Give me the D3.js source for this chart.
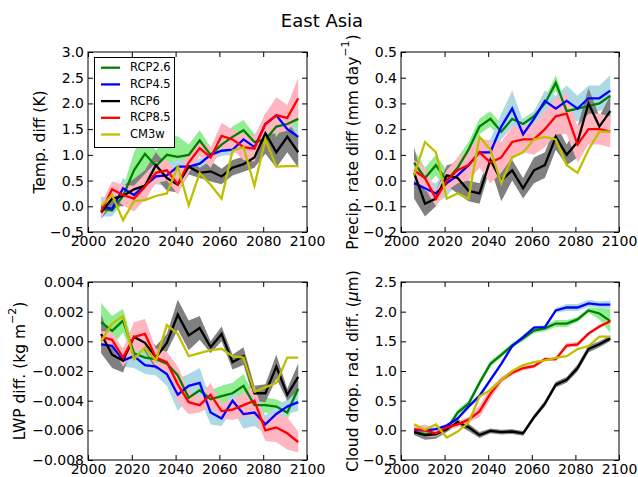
<!DOCTYPE html>
<html>
<head>
<meta charset="utf-8">
<script src="https://cdn.jsdelivr.net/npm/d3@7"></script>
<style>
  body { margin: 0; background: #fff; }
  text { font-family: "DejaVu Sans", sans-serif; }
</style>
</head>
<body>
<script>
// five-year means, 2006..2096
const years = [2006, 2011, 2016, 2021, 2026, 2031, 2036, 2041, 2046, 2051, 2056, 2061, 2066, 2071, 2076, 2081, 2086, 2091, 2096]

const scenarios = ['RCP2.6', 'RCP4.5', 'RCP6', 'RCP8.5', 'CM3w']
const lineColors = ['#008000', '#0000ff', '#000000', '#ff0000', '#bfbf00']
const bandColors = ['#90ee90', '#add8e6', '#808080', '#ffb6c1', null]

// Temp. diff (K)
const tempMean = [
  [-0.05, -0.08, 0.2, 0.7, 1.02, 0.78, 1.0, 0.96, 1.0, 1.28, 1.0, 1.2, 1.35, 1.48, 1.25, 1.3, 1.55, 1.6, 1.7],
  [0.0, -0.05, 0.35, 0.22, 0.4, 0.58, 0.6, 0.77, 0.77, 0.83, 1.0, 1.08, 1.1, 1.3, 1.15, 1.6, 1.77, 1.5, 1.35],
  [-0.12, 0.15, 0.2, 0.33, 0.4, 0.8, 0.55, 0.42, 0.77, 0.65, 0.68, 0.58, 0.75, 0.82, 0.95, 1.42, 1.05, 1.35, 1.05],
  [-0.1, 0.33, 0.22, 0.15, 0.38, 0.65, 0.7, 0.43, 0.85, 1.13, 0.95, 1.37, 1.3, 1.15, 1.12, 1.6, 1.77, 1.72, 2.1],
  [0.0, 0.22, -0.27, 0.1, 0.12, 0.2, 0.25, 0.77, 0.02, 0.65, 0.42, 0.15, 1.08, 1.15, 0.4, 1.3, 0.77, 0.78, 0.78]
]
const tempSpread = [
  [0.1, 0.1, 0.15, 0.35, 0.4, 0.3, 0.35, 0.4, 0.2, 0.2, 0.15, 0.15, 0.2, 0.2, 0.15, 0.25, 0.2, 0.2, 0.2],
  [0.2, 0.15, 0.2, 0.15, 0.15, 0.15, 0.2, 0.15, 0.1, 0.1, 0.1, 0.1, 0.1, 0.1, 0.1, 0.1, 0.1, 0.15, 0.15],
  [0.12, 0.15, 0.2, 0.2, 0.3, 0.25, 0.25, 0.15, 0.15, 0.1, 0.2, 0.15, 0.15, 0.15, 0.2, 0.4, 0.3, 0.3, 0.3],
  [0.15, 0.15, 0.2, 0.25, 0.25, 0.2, 0.2, 0.2, 0.2, 0.15, 0.2, 0.25, 0.2, 0.25, 0.25, 0.2, 0.35, 0.25, 0.4]
]

// Precip. rate diff (mm/day)
const precipMean = [
  [0.07, 0.01, 0.06, 0.0, 0.05, 0.12, 0.21, 0.24, 0.19, 0.24, 0.22, 0.25, 0.3, 0.38, 0.27, 0.28, 0.29, 0.3, 0.33],
  [-0.01, -0.03, -0.05, -0.01, 0.02, 0.06, 0.11, 0.11, 0.21, 0.28, 0.18, 0.24, 0.31, 0.28, 0.31, 0.28, 0.32, 0.32, 0.35],
  [0.03, -0.09, -0.07, 0.02, 0.01, -0.04, -0.05, 0.08, 0.0, 0.04, -0.03, 0.04, 0.06, 0.17, 0.1, 0.15, 0.3, 0.21, 0.27],
  [0.04, 0.01, -0.07, 0.0, 0.04, 0.06, 0.11, 0.07, 0.09, 0.15, 0.16, 0.16, 0.2, 0.25, 0.26, 0.14, 0.2, 0.2, 0.19],
  [0.02, 0.15, 0.11, -0.07, -0.05, -0.07, 0.17, 0.12, -0.01, 0.09, 0.11, 0.16, 0.17, 0.16, 0.06, 0.03, 0.12, 0.19, 0.19]
]
const precipSpread = [
  [0.05, 0.04, 0.04, 0.04, 0.04, 0.03, 0.03, 0.03, 0.03, 0.02, 0.02, 0.02, 0.02, 0.03, 0.02, 0.02, 0.02, 0.02, 0.02],
  [0.03, 0.03, 0.04, 0.05, 0.03, 0.03, 0.04, 0.05, 0.05, 0.07, 0.05, 0.03, 0.04, 0.05, 0.06, 0.05, 0.05, 0.05, 0.06],
  [0.1, 0.05, 0.03, 0.04, 0.06, 0.04, 0.04, 0.03, 0.08, 0.04, 0.04, 0.05, 0.05, 0.05, 0.04, 0.06, 0.06, 0.04, 0.06],
  [0.04, 0.04, 0.03, 0.04, 0.05, 0.06, 0.06, 0.08, 0.06, 0.06, 0.05, 0.06, 0.07, 0.07, 0.08, 0.07, 0.06, 0.06, 0.06]
]

// LWP diff. (g m-2, i.e. kg m-2 x 1000)
const lwpMean = [
  [1.3, 0.7, 1.4, -0.8, -1.1, -1.2, -1.5, -2.3, -3.8, -3.3, -3.9, -3.7, -3.5, -3.0, -4.3, -4.3, -4.4, -4.8, -3.2],
  [-0.2, -0.3, -1.3, -1.0, -1.6, -1.7, -2.2, -3.6, -3.0, -2.8, -4.8, -5.2, -4.0, -4.9, -4.8, -5.6, -4.9, -4.4, -4.1],
  [0.5, -0.9, -1.3, 0.3, -0.1, -1.1, -0.1, 1.8, 0.4, 0.9, -0.4, 0.5, -1.4, -1.0, -3.5, -3.5, -1.7, -3.6, -2.4],
  [0.3, 0.1, -1.1, 0.3, 0.5, -1.1, -1.4, -2.9, -4.1, -4.3, -3.6, -4.7, -4.6, -4.3, -4.0, -6.0, -5.8, -6.2, -6.8],
  [0.0, 1.2, 1.7, -1.2, -0.4, -1.3, 1.1, 0.5, -1.0, -0.8, -0.6, -0.5, -1.0, -1.1, -3.4, -3.1, -2.8, -1.1, -1.1]
]
const lwpSpread = [
  [1.3, 1.0, 0.8, 0.4, 0.4, 0.4, 0.4, 0.5, 0.5, 0.6, 0.6, 0.7, 0.7, 0.8, 0.6, 0.5, 0.5, 0.5, 0.5],
  [0.3, 0.3, 0.4, 0.8, 0.6, 0.6, 0.8, 1.1, 0.8, 1.0, 0.8, 0.5, 0.6, 1.0, 0.9, 0.6, 0.5, 0.5, 0.6],
  [1.3, 0.9, 0.8, 0.4, 0.6, 0.8, 0.6, 1.0, 1.0, 0.8, 0.4, 0.5, 0.5, 0.6, 0.5, 0.6, 0.8, 0.4, 0.9],
  [0.4, 0.5, 0.6, 1.0, 1.0, 0.6, 0.7, 1.2, 0.8, 0.5, 0.8, 0.5, 0.7, 0.8, 1.0, 0.7, 1.0, 1.1, 0.7]
]

// Cloud drop. rad. diff. (um)
const cdrMean = [
  [-0.03, -0.06, -0.05, 0.02, 0.3, 0.45, 0.8, 1.12, 1.27, 1.43, 1.55, 1.68, 1.72, 1.8, 1.8, 1.87, 2.02, 1.97, 1.84],
  [0.0, 0.0, 0.02, 0.08, 0.2, 0.4, 0.58, 0.85, 1.12, 1.42, 1.57, 1.73, 1.74, 2.02, 2.07, 2.07, 2.14, 2.12, 2.12],
  [-0.03, -0.08, -0.07, 0.02, 0.14, 0.05, -0.08, -0.01, -0.03, -0.02, -0.05, 0.22, 0.45, 0.77, 0.85, 1.05, 1.37, 1.45, 1.55],
  [0.02, 0.0, -0.05, 0.05, 0.1, 0.18, 0.32, 0.62, 0.85, 0.97, 1.05, 1.08, 1.2, 1.2, 1.43, 1.45, 1.63, 1.75, 1.84],
  [0.1, 0.01, 0.1, -0.12, -0.02, 0.13, 0.57, 0.68, 0.85, 1.0, 1.1, 1.15, 1.18, 1.22, 1.25, 1.37, 1.42, 1.58, 1.58]
]
const cdrSpread = [
  [0.03, 0.04, 0.04, 0.04, 0.05, 0.05, 0.05, 0.05, 0.04, 0.04, 0.05, 0.04, 0.05, 0.06, 0.06, 0.04, 0.04, 0.1, 0.2],
  [0.03, 0.03, 0.03, 0.03, 0.03, 0.03, 0.04, 0.04, 0.03, 0.03, 0.03, 0.03, 0.03, 0.04, 0.06, 0.06, 0.06, 0.05, 0.07],
  [0.05, 0.08, 0.07, 0.05, 0.05, 0.06, 0.05, 0.04, 0.04, 0.04, 0.04, 0.04, 0.05, 0.05, 0.05, 0.06, 0.06, 0.05, 0.05],
  [0.04, 0.1, 0.06, 0.05, 0.05, 0.05, 0.1, 0.1, 0.05, 0.04, 0.04, 0.03, 0.03, 0.03, 0.04, 0.04, 0.03, 0.03, 0.03]
]

const xTicks = [2000, 2020, 2040, 2060, 2080, 2100]
const tempTicks = [-0.5, 0.0, 0.5, 1.0, 1.5, 2.0, 2.5, 3.0]
const precipTicks = [-0.2, -0.1, 0.0, 0.1, 0.2, 0.3, 0.4, 0.5]
const lwpTicks = [-8, -6, -4, -2, 0, 2, 4]
const cdrTicks = [-0.5, 0.0, 0.5, 1.0, 1.5, 2.0, 2.5]

const width = 638
const height = 477

const svg = d3.select('body')
  .append('svg')
  .attr('width', width)
  .attr('height', height)

svg.append('text')
  .attr('x', 322)
  .attr('y', 27)
  .attr('text-anchor', 'middle')
  .attr('font-size', 18)
  .text('East Asia')

const fmtMinus = s => s.replace('-', '\u2212')

const panels = [
  { left: 88, right: 307, top: 52, bottom: 232, mean: tempMean, spread: tempSpread, ticks: tempTicks,
    fmt: d => fmtMinus(d3.format('.1f')(d)), label: ['Temp. diff (K)'], labelX: 40, legend: true },
  { left: 401, right: 619, top: 52, bottom: 232, mean: precipMean, spread: precipSpread, ticks: precipTicks,
    fmt: d => fmtMinus(d3.format('.1f')(d)), label: ['Precip. rate diff (mm day', '\u22121', ')'], labelX: 353 },
  { left: 88, right: 307, top: 282, bottom: 460, mean: lwpMean, spread: lwpSpread, ticks: lwpTicks,
    fmt: d => fmtMinus(d3.format('.3f')(d / 1000)), label: ['LWP diff. (kg m', '\u22122', ')'], labelX: 20 },
  { left: 401, right: 619, top: 282, bottom: 460, mean: cdrMean, spread: cdrSpread, ticks: cdrTicks,
    fmt: d => fmtMinus(d3.format('.1f')(d)), label: ['Cloud drop. rad. diff. (', '\u03bc', 'm)'], labelX: 353, mu: true }
]

panels.forEach(p => {
  const x = d3.scaleLinear().domain([2000, 2100]).range([p.left, p.right])
  const y = d3.scaleLinear().domain([p.ticks[0], p.ticks[p.ticks.length - 1]]).range([p.bottom, p.top])

  const g = svg.append('g')
  const clipId = 'clip' + p.left + p.top
  g.append('clipPath').attr('id', clipId)
    .append('rect')
    .attr('x', p.left).attr('y', p.top)
    .attr('width', p.right - p.left).attr('height', p.bottom - p.top)

  const plot = g.append('g').attr('clip-path', `url(#${clipId})`)

  const area = d3.area()
    .x((d, i) => x(years[i]))
    .y0(d => y(d[0]))
    .y1(d => y(d[1]))

  // shaded ranges, drawn before the lines
  p.spread.forEach((s, k) => {
    const band = p.mean[k].map((m, i) => [m - s[i], m + s[i]])
    plot.append('path')
      .attr('d', area(band))
      .attr('fill', bandColors[k])
      .attr('stroke', 'none')
  })

  const line = d3.line()
    .x((d, i) => x(years[i]))
    .y(d => y(d))

  p.mean.forEach((m, k) => {
    plot.append('path')
      .attr('d', line(m))
      .attr('fill', 'none')
      .attr('stroke', lineColors[k])
      .attr('stroke-width', 2.3)
      .attr('stroke-linejoin', 'miter')
  })

  // axes, ticks inward on all four sides
  const axB = d3.axisBottom(x).tickValues(xTicks).tickSizeInner(-5).tickSizeOuter(0).tickPadding(4).tickFormat(d3.format('d'))
  const axT = d3.axisTop(x).tickValues(xTicks).tickSizeInner(-5).tickSizeOuter(0).tickFormat('')
  const axL = d3.axisLeft(y).tickValues(p.ticks).tickSizeInner(-5).tickSizeOuter(0).tickPadding(4).tickFormat(p.fmt)
  const axR = d3.axisRight(y).tickValues(p.ticks).tickSizeInner(-5).tickSizeOuter(0).tickFormat('')

  const axes = [
    g.append('g').attr('transform', `translate(0,${p.bottom})`).call(axB),
    g.append('g').attr('transform', `translate(0,${p.top})`).call(axT),
    g.append('g').attr('transform', `translate(${p.left},0)`).call(axL),
    g.append('g').attr('transform', `translate(${p.right},0)`).call(axR)
  ]
  axes.forEach(a => {
    a.select('.domain').remove()
    a.selectAll('text').attr('font-size', 14).attr('font-family', '"DejaVu Sans", sans-serif').attr('fill', '#000')
    a.selectAll('line').attr('stroke', '#000')
  })

  g.append('rect')
    .attr('x', p.left).attr('y', p.top)
    .attr('width', p.right - p.left).attr('height', p.bottom - p.top)
    .attr('fill', 'none').attr('stroke', '#000').attr('stroke-width', 1)

  // y label
  const cy = (p.top + p.bottom) / 2
  const lab = g.append('text')
    .attr('transform', `translate(${p.labelX},${cy}) rotate(-90)`)
    .attr('text-anchor', 'middle')
    .attr('dominant-baseline', 'middle')
    .attr('font-size', 15.5)
  lab.append('tspan').text(p.label[0])
  if (p.label.length > 1) {
    if (p.mu) {
      lab.append('tspan').attr('font-style', 'italic').text(p.label[1])
      lab.append('tspan').text(p.label[2])
    } else {
      lab.append('tspan').attr('font-size', 11).attr('dy', -7).text(p.label[1])
      lab.append('tspan').attr('dy', 7).text(p.label[2])
    }
  }

  if (p.legend) {
    const lg = g.append('g')
    lg.append('rect')
      .attr('x', 94.5).attr('y', 57.5).attr('width', 80).attr('height', 90)
      .attr('fill', '#fff').attr('stroke', '#000').attr('stroke-width', 1)
    scenarios.forEach((s, k) => {
      const yy = 67.7 + k * 16.7
      lg.append('line')
        .attr('x1', 101).attr('x2', 120).attr('y1', yy).attr('y2', yy)
        .attr('stroke', lineColors[k]).attr('stroke-width', 2.3)
      lg.append('text')
        .attr('x', 130).attr('y', yy)
        .attr('dominant-baseline', 'middle')
        .attr('font-size', 11.5)
        .text(s)
    })
  }
})
</script>
</body>
</html>
